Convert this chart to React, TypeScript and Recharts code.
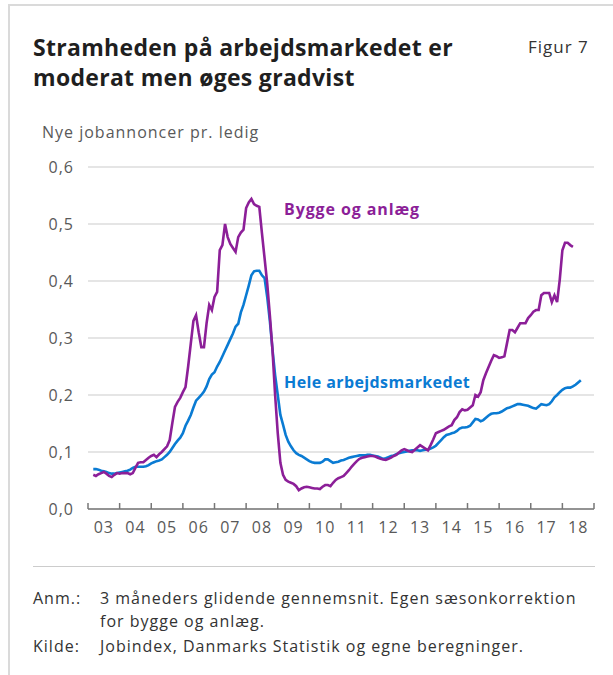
import React from 'react';
import { LineChart, Line, XAxis, YAxis, CartesianGrid } from 'recharts';

// monthly observations, first value = March 2003
const firstMonth = 2003 + 2 / 12;

const heleArbejdsmarkedet = [
  0.070, 0.070, 0.069, 0.067, 0.066, 0.065, 0.063, 0.062, 0.062, 0.063, // 2003
  0.064, 0.065, 0.066, 0.067, 0.069, 0.072, 0.074, 0.074, 0.074, 0.074, 0.075, 0.077,
  0.080, 0.082, 0.084, 0.085, 0.087, 0.091, 0.095, 0.100, 0.107, 0.114, 0.120, 0.125,
  0.133, 0.146, 0.155, 0.165, 0.178, 0.190, 0.195, 0.200, 0.206, 0.215, 0.228, 0.236,
  0.240, 0.250, 0.258, 0.268, 0.278, 0.288, 0.298, 0.308, 0.320, 0.325, 0.345, 0.358,
  0.375, 0.392, 0.410, 0.417, 0.418, 0.418, 0.410, 0.405, 0.372, 0.330, 0.280, 0.235,
  0.200, 0.165, 0.148, 0.130, 0.118, 0.110, 0.103, 0.098, 0.095, 0.093, 0.090, 0.087,
  0.084, 0.082, 0.081, 0.081, 0.081, 0.083, 0.087, 0.087, 0.084, 0.081, 0.082, 0.083,
  0.085, 0.086, 0.088, 0.090, 0.091, 0.092, 0.093, 0.094, 0.094, 0.094, 0.095, 0.095,
  0.094, 0.093, 0.092, 0.090, 0.088, 0.089, 0.091, 0.093, 0.094, 0.096, 0.098, 0.099,
  0.100, 0.101, 0.102, 0.103, 0.103, 0.103, 0.102, 0.103, 0.104, 0.104, 0.106, 0.108,
  0.111, 0.116, 0.121, 0.126, 0.130, 0.131, 0.133, 0.134, 0.137, 0.141, 0.143, 0.143,
  0.144, 0.146, 0.152, 0.158, 0.157, 0.154, 0.156, 0.160, 0.164, 0.167, 0.168, 0.168,
  0.169, 0.171, 0.174, 0.177, 0.178, 0.180, 0.182, 0.184, 0.184, 0.183, 0.182, 0.181,
  0.179, 0.177, 0.176, 0.180, 0.184, 0.183, 0.182, 0.184, 0.189, 0.196, 0.200, 0.205,
  0.209, 0.212, 0.213, 0.213, 0.215, 0.218, 0.222, 0.226, // 2018
];

const byggeOgAnlaeg = [
  0.060, 0.058, 0.061, 0.063, 0.065, 0.062, 0.058, 0.056, 0.060, 0.063, // 2003
  0.062, 0.063, 0.063, 0.063, 0.061, 0.063, 0.072, 0.081, 0.082, 0.082, 0.086, 0.090,
  0.093, 0.095, 0.091, 0.096, 0.100, 0.105, 0.110, 0.121, 0.151, 0.179, 0.188, 0.195,
  0.205, 0.214, 0.250, 0.290, 0.330, 0.340, 0.310, 0.284, 0.284, 0.326, 0.358, 0.349,
  0.372, 0.381, 0.454, 0.463, 0.500, 0.477, 0.465, 0.458, 0.451, 0.477, 0.485, 0.490,
  0.528, 0.538, 0.544, 0.535, 0.532, 0.530, 0.484, 0.440, 0.396, 0.340, 0.279, 0.200,
  0.133, 0.081, 0.060, 0.051, 0.048, 0.046, 0.044, 0.040, 0.033, 0.036, 0.038, 0.039,
  0.038, 0.037, 0.036, 0.036, 0.035, 0.039, 0.042, 0.042, 0.040, 0.046, 0.051, 0.054,
  0.056, 0.058, 0.063, 0.068, 0.074, 0.079, 0.084, 0.088, 0.090, 0.091, 0.092, 0.093,
  0.093, 0.092, 0.090, 0.088, 0.087, 0.086, 0.088, 0.090, 0.093, 0.095, 0.099, 0.103,
  0.105, 0.103, 0.101, 0.100, 0.104, 0.108, 0.112, 0.109, 0.106, 0.103, 0.112, 0.122,
  0.133, 0.135, 0.137, 0.139, 0.142, 0.145, 0.147, 0.156, 0.161, 0.170, 0.175, 0.173,
  0.174, 0.178, 0.182, 0.200, 0.197, 0.205, 0.226, 0.238, 0.249, 0.260, 0.270, 0.268,
  0.265, 0.266, 0.268, 0.291, 0.314, 0.314, 0.310, 0.318, 0.326, 0.326, 0.326, 0.335,
  0.340, 0.346, 0.349, 0.349, 0.375, 0.379, 0.379, 0.379, 0.363, 0.375, 0.363, 0.402,
  0.454, 0.467, 0.467, 0.463, 0.460, // 2018
];

const yearTicks = [2003, 2004, 2005, 2006, 2007, 2008, 2009, 2010, 2011, 2012, 2013, 2014, 2015, 2016, 2017, 2018, 2019];
const yTicks = [0, 0.1, 0.2, 0.3, 0.4, 0.5, 0.6];

const data = heleArbejdsmarkedet.map((v, i) => ({
  t: firstMonth + i / 12,
  hele: v,
  bygge: i < byggeOgAnlaeg.length ? byggeOgAnlaeg[i] : null,
}));

const FONT = '"Open Sans", sans-serif';
const BLUE = '#0A7BD3';
const PURPLE = '#8C1F98';
const AXIS = '#777';
const TEXT_GREY = '#595959';

const YearTick = (props: any) => {
  const { x, y, payload } = props;
  const halfYear = 31.6 / 2;
  return (
    <g>
      <line x1={x} x2={x} y1={y - 6} y2={y} stroke={AXIS} strokeWidth={1.5} />
      {payload.value < 2019 && (
        <text x={x + halfYear} y={y + 24} textAnchor="middle" fill={TEXT_GREY} fontSize={16} fontFamily={FONT} style={{ letterSpacing: '1px' }}>
          {String(payload.value % 100).padStart(2, '0')}
        </text>
      )}
    </g>
  );
};

const ValueTick = (props: any) => {
  const { x, y, payload } = props;
  return (
    <text x={x} y={y} dy={6} textAnchor="end" fill={TEXT_GREY} fontSize={16} fontFamily={FONT} style={{ letterSpacing: '1px' }}>
      {payload.value.toFixed(1).replace('.', ',')}
    </text>
  );
};

export default function App() {
  return (
    <div style={{ position: 'absolute', left: 0, top: 0, width: 613, height: 675, overflow: 'hidden', background: '#fff', fontFamily: FONT }}>
      <div style={{ position: 'absolute', left: 8, top: 4, width: 640, height: 700, borderTop: '2px solid #dadada', borderLeft: '2px solid #dadada' }} />
      <div style={{ position: 'absolute', left: 33, top: 32, fontSize: 23, fontWeight: 700, lineHeight: '30px', letterSpacing: '0.3px', color: '#1f1f1f' }}>
        Stramheden på arbejdsmarkedet er
        <br />
        moderat men øges gradvist
      </div>
      <div style={{ position: 'absolute', left: 528, top: 35, fontSize: 17, letterSpacing: '1px', color: '#333' }}>Figur 7</div>
      <div style={{ position: 'absolute', left: 42, top: 121, fontSize: 16, letterSpacing: '1px', color: TEXT_GREY }}>Nye jobannoncer pr. ledig</div>

      <LineChart width={613} height={560} data={data} margin={{ top: 167, right: 19, bottom: 21, left: 0 }} style={{ position: 'absolute', left: 0, top: 0 }}>
        <CartesianGrid vertical={false} stroke="#cccccc" strokeWidth={1.2} />
        <XAxis
          dataKey="t"
          type="number"
          domain={[2003, 2019]}
          ticks={yearTicks}
          interval={0}
          height={30}
          tickLine={false}
          tickSize={0}
          tickMargin={0}
          axisLine={{ stroke: AXIS, strokeWidth: 1.5 }}
          tick={<YearTick />}
        />
        <YAxis
          domain={[0, 0.6]}
          ticks={yTicks}
          width={88}
          axisLine={false}
          tickLine={false}
          tickSize={0}
          tickMargin={14}
          tick={<ValueTick />}
        />
        <Line dataKey="hele" stroke={BLUE} strokeWidth={2.6} dot={false} isAnimationActive={false} />
        <Line dataKey="bygge" stroke={PURPLE} strokeWidth={2.6} dot={false} isAnimationActive={false} />
      </LineChart>

      <div style={{ position: 'absolute', left: 284, top: 198, fontSize: 16, fontWeight: 700, letterSpacing: '0.9px', color: PURPLE }}>Bygge og anlæg</div>
      <div style={{ position: 'absolute', left: 284, top: 371, fontSize: 16, fontWeight: 700, letterSpacing: '0.4px', color: BLUE }}>Hele arbejdsmarkedet</div>

      <div style={{ position: 'absolute', left: 33, top: 566, width: 562, borderTop: '1px solid #cccccc' }} />
      <div style={{ position: 'absolute', left: 33, top: 587, fontSize: 16, lineHeight: '23px', letterSpacing: '1px', color: '#333' }}>
        <div style={{ display: 'flex' }}>
          <div style={{ width: 67 }}>Anm.:</div>
          <div>
            3 måneders glidende gennemsnit. Egen sæsonkorrektion
            <br />
            for bygge og anlæg.
          </div>
        </div>
        <div style={{ display: 'flex', marginTop: 2 }}>
          <div style={{ width: 67 }}>Kilde:</div>
          <div>Jobindex, Danmarks Statistik og egne beregninger.</div>
        </div>
      </div>
    </div>
  );
}
